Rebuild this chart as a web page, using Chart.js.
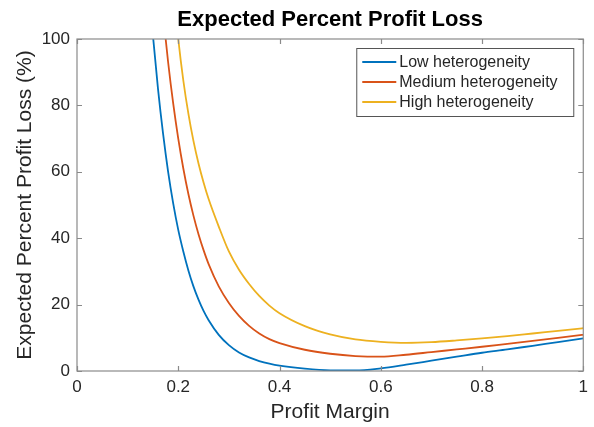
<!DOCTYPE html>
<html>
<head>
<meta charset="utf-8">
<script src="https://cdn.jsdelivr.net/npm/chart.js@4.4.0/dist/chart.umd.min.js"></script>
<style>
  html, body { margin: 0; padding: 0; background: #ffffff; }
  #wrap { width: 594px; height: 427px; }
</style>
</head>
<body>
<div id="wrap"><canvas id="chart" width="594" height="427"></canvas></div>
<script>
// Profit margin grid shared by all three curves
const margins = [0.14, 0.15, 0.16, 0.17, 0.18, 0.19, 0.20, 0.21, 0.22, 0.23, 0.24, 0.25, 0.26,
                 0.28, 0.30, 0.32, 0.34, 0.36, 0.38, 0.40, 0.45, 0.50, 0.55, 0.60, 0.65,
                 0.70, 0.75, 0.80, 0.85, 0.90, 0.95, 1.00];

// Expected percent profit loss (%) per heterogeneity level; null = off the top of the axis
const lowHeterogeneity = [120, 101, 85, 71.5, 60, 50.5, 42.5, 36, 30.3, 25.5, 21.5, 18.1, 15.3,
                          10.9, 7.8, 5.6, 4.1, 3.0, 2.2, 1.6, 0.7, 0.2, 0.15, 0.8, 1.9,
                          3.1, 4.3, 5.5, 6.5, 7.6, 8.7, 9.8];
const mediumHeterogeneity = [null, null, null, 107.5, 93, 80.6, 70, 61, 53.3, 46.8, 41.2, 36.4, 32.2,
                             25.5, 20.5, 16.6, 13.6, 11.3, 9.6, 8.4, 6.4, 5.2, 4.5, 4.3, 4.9,
                             5.7, 6.5, 7.3, 8.2, 9.1, 10.0, 10.9];
const highHeterogeneity = [null, null, null, null, null, 115.5, 100, 87.5, 77.5, 69.3, 62.5, 56.8, 51.8,
                           43.5, 36, 30.5, 26.2, 22.6, 19.7, 17.4, 13.5, 11.0, 9.5, 8.8, 8.5,
                           8.7, 9.2, 9.8, 10.5, 11.3, 12.1, 12.9];

const seriesNames = ['Low heterogeneity', 'Medium heterogeneity', 'High heterogeneity'];
const seriesColors = ['#0072BD', '#D95319', '#EDB120'];

const xTicks = [0, 0.2, 0.4, 0.6, 0.8, 1];
const yTicks = [0, 20, 40, 60, 80, 100];

const titleText = 'Expected Percent Profit Loss';
const xTitle = 'Profit Margin';
const yTitle = 'Expected Percent Profit Loss (%)';

const FONT = "'Liberation Sans', Arial, Helvetica, sans-serif";
const TEXT_COLOR = '#262626';
const AXIS_COLOR = '#8a8a8a';

function toPoints(values) {
  return margins
    .map((m, i) => ({ x: m, y: values[i] }))
    .filter(p => p.y !== null);
}

const allSeries = [lowHeterogeneity, mediumHeterogeneity, highHeterogeneity];

const datasets = allSeries.map((vals, i) => ({
  label: seriesNames[i],
  data: toPoints(vals),
  borderColor: seriesColors[i],
  backgroundColor: seriesColors[i],
  borderWidth: 1.8,
  pointRadius: 0,
  fill: false,
  cubicInterpolationMode: 'monotone',
  clip: 0
}));

// Axes box with inward tick marks on all four sides, plus title, labels and legend
const decorations = {
  id: 'decorations',
  afterDatasetsDraw(chart) {
    const { ctx, chartArea: a, scales } = chart;
    const tick = 5;
    ctx.save();
    ctx.strokeStyle = AXIS_COLOR;
    ctx.lineWidth = 1.2;
    ctx.strokeRect(a.left, a.top, a.right - a.left, a.bottom - a.top);
    ctx.beginPath();
    xTicks.forEach(v => {
      const px = Math.round(scales.x.getPixelForValue(v)) + 0.5;
      ctx.moveTo(px, a.bottom); ctx.lineTo(px, a.bottom - tick);
      ctx.moveTo(px, a.top); ctx.lineTo(px, a.top + tick);
    });
    yTicks.forEach(v => {
      const py = Math.round(scales.y.getPixelForValue(v)) + 0.5;
      ctx.moveTo(a.left, py); ctx.lineTo(a.left + tick, py);
      ctx.moveTo(a.right, py); ctx.lineTo(a.right - tick, py);
    });
    ctx.stroke();
    ctx.restore();
  },
  afterDraw(chart) {
    const { ctx, chartArea: a } = chart;
    const cx = (a.left + a.right) / 2;
    ctx.save();
    ctx.fillStyle = '#000000';
    ctx.textAlign = 'center';
    ctx.textBaseline = 'alphabetic';
    ctx.font = 'bold 22px ' + FONT;
    ctx.fillText(titleText, cx, 26);

    ctx.fillStyle = TEXT_COLOR;
    ctx.font = '21px ' + FONT;
    ctx.fillText(xTitle, cx, 418);

    ctx.save();
    ctx.translate(25, (a.top + a.bottom) / 2);
    ctx.rotate(-Math.PI / 2);
    ctx.textBaseline = 'middle';
    ctx.fillText(yTitle, 0, 0);
    ctx.restore();

    // Legend
    const boxRight = a.right - 10;
    const boxLeft = boxRight - 217;
    const boxTop = a.top + 9;
    const boxH = 68;
    ctx.fillStyle = '#ffffff';
    ctx.fillRect(boxLeft, boxTop, boxRight - boxLeft, boxH);
    ctx.strokeStyle = '#555555';
    ctx.lineWidth = 1;
    ctx.strokeRect(boxLeft + 0.5, boxTop + 0.5, boxRight - boxLeft, boxH);
    ctx.font = '16px ' + FONT;
    ctx.textAlign = 'left';
    ctx.textBaseline = 'middle';
    chart.data.datasets.forEach((ds, i) => {
      const y = boxTop + 14 + i * 20;
      ctx.strokeStyle = ds.borderColor;
      ctx.lineWidth = 1.8;
      ctx.beginPath();
      ctx.moveTo(boxLeft + 6, y);
      ctx.lineTo(boxLeft + 40, y);
      ctx.stroke();
      ctx.fillStyle = TEXT_COLOR;
      ctx.fillText(ds.label, boxLeft + 43, y + 1);
    });
    ctx.restore();
  }
};

new Chart(document.getElementById('chart'), {
  type: 'line',
  data: { datasets },
  options: {
    responsive: false,
    animation: false,
    devicePixelRatio: 1,
    layout: { padding: { top: 39, right: 10, left: 0, bottom: 0 } },
    plugins: {
      legend: { display: false },
      title: { display: false },
      tooltip: { enabled: false }
    },
    scales: {
      x: {
        type: 'linear',
        min: 0,
        max: 1,
        afterFit(scale) { scale.height = 56; },
        afterBuildTicks(scale) { scale.ticks = xTicks.map(v => ({ value: v })); },
        grid: { display: false, drawTicks: false },
        border: { display: false },
        ticks: {
          padding: 6,
          color: TEXT_COLOR,
          font: { family: FONT, size: 17 },
          maxRotation: 0,
          callback: v => String(Math.round(v * 10) / 10)
        }
      },
      y: {
        type: 'linear',
        min: 0,
        max: 100,
        afterFit(scale) { scale.width = 77; },
        afterBuildTicks(scale) { scale.ticks = yTicks.map(v => ({ value: v })); },
        grid: { display: false, drawTicks: false },
        border: { display: false },
        ticks: {
          padding: 7,
          color: TEXT_COLOR,
          font: { family: FONT, size: 17 },
          callback: v => String(v)
        }
      }
    }
  },
  plugins: [decorations]
});
</script>
</body>
</html>
